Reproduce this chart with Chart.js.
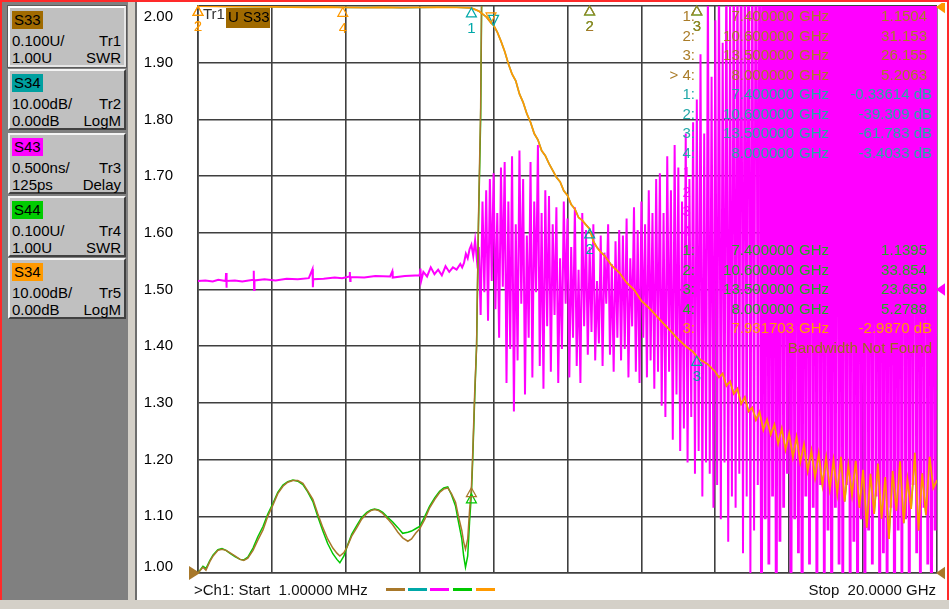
<!DOCTYPE html>
<html lang="en">
<head>
<meta charset="UTF-8">
<title>S33 / S34 / S43 / S44 - Ch1</title>
<script src="https://cdn.jsdelivr.net/npm/chart.js"></script>
<style>
    body { margin: 0; width: 949px; height: 609px; background: #d4d0c8; overflow: hidden;
           font-family: "Liberation Sans", Arial, sans-serif; font-size: 15px; }
    #redframe { position: absolute; left: 0; top: 0; width: 945px; height: 598px;
                border: 2px solid #ff2a2a; border-bottom: none; }
    #panel { position: absolute; left: 2px; top: 2px; width: 126px; height: 598px; background: #808080; }
    .btn { position: absolute; left: 6px; width: 114px; height: 57px; background: #c0c0c0;
           border: 2px solid; border-color: #f4f4f4 #404040 #404040 #f4f4f4; }
    .btn.active { border-color: #ffffff #e6e6e6 #e6e6e6 #ffffff; box-shadow: 0 0 0 1px #5a5a5a; }
    .tag { position: absolute; left: 2px; top: 3px; height: 18px; line-height: 18px; padding: 0 2px; color: #000; }
    .row { position: absolute; left: 2px; right: 3px; height: 17px; line-height: 17px; color: #000; }
    .row span:last-child { position: absolute; right: 0; }
    .r1 { top: 24px; }
    .r2 { top: 41px; }
    #sep { position: absolute; left: 128px; top: 2px; width: 7px; height: 598px; background: #d4d0c8;
           border-right: 2px solid #6e6e6e; }
    #plot { position: absolute; left: 137px; top: 2px; width: 810px; height: 598px; background: #fff; }
    #vna { position: absolute; left: 0; top: 1px; }
    .status { position: absolute; top: 581px; line-height: 18px; white-space: pre; color: #111; }
    .dash { position: absolute; top: 588px; width: 19px; height: 3px; }
</style>
</head>
<body>

<div id="redframe"></div>

<!-- Trace buttons (left side) -->
<div id="panel">
    <div class="btn active" style="top:4px">
        <span class="tag" style="background:#a06a00">S33</span>
        <div class="row r1"><span>0.100U/</span><span>Tr1</span></div>
        <div class="row r2"><span>1.00U</span><span>SWR</span></div>
    </div>
    <div class="btn" style="top:67px">
        <span class="tag" style="background:#00a0a0">S34</span>
        <div class="row r1"><span>10.00dB/</span><span>Tr2</span></div>
        <div class="row r2"><span>0.00dB</span><span>LogM</span></div>
    </div>
    <div class="btn" style="top:131px">
        <span class="tag" style="background:#ff00ff">S43</span>
        <div class="row r1"><span>0.500ns/</span><span>Tr3</span></div>
        <div class="row r2"><span>125ps</span><span>Delay</span></div>
    </div>
    <div class="btn" style="top:194px">
        <span class="tag" style="background:#00cc00">S44</span>
        <div class="row r1"><span>0.100U/</span><span>Tr4</span></div>
        <div class="row r2"><span>1.00U</span><span>SWR</span></div>
    </div>
    <div class="btn" style="top:256px">
        <span class="tag" style="background:#ff9900">S34</span>
        <div class="row r1"><span>10.00dB/</span><span>Tr5</span></div>
        <div class="row r2"><span>0.00dB</span><span>LogM</span></div>
    </div>
</div>
<div id="sep"></div>

<div id="plot">
    <canvas id="vna" width="808" height="597"></canvas>
</div>

<!-- Channel status line -->
<div class="status" style="left:194px">&gt;Ch1: Start  1.00000 MHz</div>
<div class="dash" style="left:386px; background:#a8782a"></div>
<div class="dash" style="left:408px; background:#00a8a8"></div>
<div class="dash" style="left:430px; background:#ff00ff"></div>
<div class="dash" style="left:453px; background:#00c800"></div>
<div class="dash" style="left:476px; background:#ff9900"></div>
<div class="status" style="right:13px">Stop  20.0000 GHz</div>

<script>
    // ---- data (frequency in GHz) ----

    // vertical grid: start 1 MHz, stop 20 GHz, 10 divisions
    const xGrid = [0.001, 2, 4, 6, 8, 10, 12, 14, 16, 18, 20];

    // Tr1 S33 / Tr4 S44, SWR
    const swrFreq = [
        0.001, 0.135, 0.216, 0.32, 0.41, 0.54, 0.65, 0.76, 0.86, 1.00,
        1.14, 1.24, 1.35, 1.49, 1.62, 1.76, 1.89, 2.03, 2.16, 2.30,
        2.43, 2.57, 2.70, 2.84, 2.97, 3.11, 3.24, 3.38, 3.51, 3.65,
        3.76, 3.84, 3.95, 4.03, 4.16, 4.30, 4.43, 4.57, 4.68, 4.78,
        4.89, 5.00, 5.14, 5.27, 5.41, 5.54, 5.68, 5.78, 5.89, 6.00,
        6.14, 6.27, 6.41, 6.54, 6.65, 6.76, 6.86, 6.97, 7.05, 7.14,
        7.19, 7.24, 7.30, 7.35, 7.40, 7.43, 7.49, 7.54, 7.59, 7.65,
        7.70, 7.78, 8.00, 9.00, 10.60, 12.00, 13.50, 15.00, 17.00, 20.00
    ];
    const s33Swr = [
        1.000, 1.010, 1.005, 1.020, 1.030, 1.040, 1.042, 1.040, 1.036, 1.030,
        1.024, 1.022, 1.026, 1.040, 1.058, 1.076, 1.100, 1.120, 1.140, 1.153,
        1.160, 1.163, 1.163, 1.158, 1.145, 1.130, 1.105, 1.080, 1.060, 1.044,
        1.035, 1.030, 1.036, 1.045, 1.065, 1.080, 1.095, 1.105, 1.110, 1.112,
        1.110, 1.105, 1.095, 1.085, 1.072, 1.062, 1.056, 1.060, 1.070, 1.078,
        1.095, 1.115, 1.130, 1.142, 1.148, 1.150, 1.140, 1.125, 1.100, 1.075,
        1.055, 1.042, 1.060, 1.110, 1.1504, 1.200, 1.320, 1.400, 1.620, 1.820,
        2.200, 3.500, 5.2063, 14.0, 31.153, 28.0, 26.155, 22.0, 20.0, 18.0
    ];
    const s44Swr = [
        1.000, 1.012, 1.008, 1.022, 1.032, 1.041, 1.043, 1.040, 1.035, 1.029,
        1.024, 1.023, 1.028, 1.044, 1.064, 1.082, 1.104, 1.123, 1.142, 1.155,
        1.161, 1.164, 1.162, 1.156, 1.143, 1.126, 1.100, 1.074, 1.052, 1.034,
        1.024, 1.018, 1.030, 1.046, 1.068, 1.084, 1.098, 1.107, 1.111, 1.113,
        1.111, 1.107, 1.098, 1.090, 1.080, 1.070, 1.072, 1.074, 1.078, 1.082,
        1.100, 1.118, 1.133, 1.144, 1.150, 1.152, 1.138, 1.118, 1.090, 1.060,
        1.030, 1.010, 1.030, 1.090, 1.1395, 1.190, 1.310, 1.400, 1.610, 1.800,
        2.180, 3.450, 5.2788, 15.0, 33.854, 27.0, 23.659, 21.0, 19.0, 17.0
    ];

    // Tr2 / Tr5 S34, LogM (dB)
    const s34Freq = [
        0.001, 0.5, 1.0, 1.5, 2.0, 2.5, 3.0, 3.5, 4.0, 4.5, 5.0, 5.5, 6.0, 6.5, 7.0,
        7.4, 7.6, 7.8, 7.931703, 8.0,
        8.1, 8.2, 8.3, 8.4, 8.5, 8.6, 8.7, 8.8, 8.9, 9.0,
        9.1, 9.2, 9.3, 9.4, 9.5, 9.6, 9.7, 9.8, 9.9, 10.0,
        10.1, 10.2, 10.3, 10.4, 10.5, 10.6, 10.7, 10.8, 10.9, 11.0,
        11.2, 11.4, 11.6, 11.8, 12.0, 12.2, 12.4, 12.6, 12.8, 13.0,
        13.2, 13.4, 13.5, 13.6, 13.8, 14.0
    ];
    const s34Db = [
        -0.03, -0.06, -0.1, -0.12, -0.15, -0.2, -0.22, -0.18, -0.25, -0.28, -0.22, -0.3, -0.26, -0.2, -0.24,
        -0.336, -0.9, -1.9, -2.987, -3.403,
        -4.6, -6.2, -8.0, -10.2, -12.0, -13.2, -15.5, -17.0, -19.0, -20.5,
        -22.5, -23.6, -25.5, -26.4, -27.8, -29.0, -30.2, -31.0, -32.6, -33.4,
        -35.0, -35.8, -37.3, -37.8, -38.6, -39.309, -41.5, -42.6, -43.4, -44.0,
        -45.8, -47.0, -48.8, -50.0, -52.0, -53.2, -54.6, -56.0, -57.4, -58.8,
        -60.0, -61.0, -61.783, -62.4, -63.2, -64.5
    ];
    // noisy tail, sweep points every 0.1 GHz from 14.1 GHz
    const s34TailStart = 14.1, s34TailStep = 0.1;
    const s34Tail = [
        -65.5, -64.8, -67.0, -66.2, -68.4, -67.5, -70.2, -69.0, -71.5, -70.8,
        -73.0, -71.6, -74.8, -72.9, -75.6, -73.8, -77.2, -74.5, -78.3, -75.4,
        -79.6, -76.0, -80.5, -77.3, -82.0, -78.4, -83.2, -78.9, -84.5, -79.6,
        -85.2, -80.1, -86.0, -79.5, -87.4, -81.0, -86.3, -80.2, -88.5, -81.8,
        -92.0, -82.5, -89.6, -80.7, -90.4, -83.1, -94.0, -82.0, -89.0, -80.3,
        -91.2, -83.5, -88.7, -78.8, -92.5, -82.4, -89.8, -79.5, -85.0, -83.6
    ];

    // Tr3 S43, group delay (ps)
    const s43Freq = [
        0.001, 0.2, 0.4, 0.55, 0.75, 0.76, 0.77, 0.78, 1.0, 1.2,
        1.5, 1.51, 1.52, 1.53, 1.8, 2.1, 2.4, 2.7, 3.0, 3.1,
        3.11, 3.12, 3.4, 3.7, 3.9, 4.1, 4.11, 4.12, 4.13, 4.5,
        4.8, 5.2, 5.26, 5.27, 5.6, 6.0, 6.02, 6.04, 6.1, 6.2,
        6.3, 6.4, 6.5, 6.6, 6.7, 6.8, 6.9, 7.0, 7.1, 7.15,
        7.2, 7.25, 7.3, 7.35, 7.4, 7.45, 7.5, 7.55
    ];
    const s43Delay = [
        200, 205, 195, 210, 200, 270, 140, 200, 205, 195,
        210, 290, 120, 205, 215, 205, 220, 215, 225, 305,
        145, 215, 220, 230, 225, 240, 280, 200, 235, 230,
        245, 240, 285, 230, 245, 250, 310, 200, 280, 240,
        320, 260, 300, 250, 330, 280, 320, 300, 350, 320,
        360, 440, 400, 480, 520, 420, 560, 380
    ];
    // noisy part, sweep points every 0.05 GHz from 7.60 GHz
    const s43NoiseStart = 7.60, s43NoiseStep = 0.05;
    const s43Noise = [
        500, -100, 900, 100, 1000, -150, 1100, 200,
        1150, -50, 800, -300, 1200, 150, 1250, -700, 900, -400,
        1300, -950, 700, -500, 1350, 0, 1100, -800, 600, -300,
        1250, -650, 900, 100, 1400, -550, 800, -750, 1000, -200,
        950, -600, 700, -100, 850, -700, 400, -400, 900, 0,
        750, -650, 500, -300, 850, -550, 300, -700, 800, -200,
        650, -450, 500, -250, 700, -500, 200, -350, 600, -550,
        450, 0, 700, -450, 350, -600, 550, -300, 650, -500,
        600, -400, 750, -650, 400, -200, 850, -600, 650, -700,
        900, -300, 700, -650, 1000, -500, 800, -750, 1100, -600,
        1150, -900, 800, -1000, 1300, -600, 1000, -1200, 1400, -800,
        1200, -1300, 900, -1100, 1500, -1400, 1100, -1000, 1600, -1500,
        1800, -1300, 2200, -1700, 1500, -1400, 2800, -1500, 2000, -1800,
        2500, -1600, 3000, -1900, 2300, -1400, 3200, -2100, 2700, -1700,
        3500, -1800, 3200, -1500, 4000, -2200, 3600, -1700, 4500, -2400,
        3800, -2000, 5000, -1600, 4200, -2600, 3900, -1900, 4800, -2300,
        4400, -1700, 5200, -2800, 4100, -2100, 5500, -1800, 4600, -1500,
        5000, -2500, 4300, -1900, 5800, -2200, 4700, -3000, 5100, -1700,
        4500, -2300, 6000, -1800, 4900, -2700, 5300, -1600, 4400, -2400,
        5600, -2000, 4800, -3100, 5200, -1800, 6100, -2300, 4600, -2600,
        5400, -1600, 5000, -2500, 5900, -2100, 4700, -2900, 5500, -1900,
        4900, -2700, 6200, -2000, 5100, -2300, 5700, -1700, 4800, -2900,
        6000, -2200, 5300, -2600, 4700, -1800, 5800, -3200, 5200, -2000,
        4600, -2400, 6300, -1900, 5400, -2800, 5000, -1600, 5900, -2200,
        5200, -2600, 4800, -1800, 6100, -2300, 5500, -3000, 4900, -2000,
        5600
    ];

    // markers 1..4 (GHz) and the values in the marker table
    const markerFreq = [7.4, 10.6, 13.5, 8.0];
    const s33Marker = [1.1504, 31.153, 26.155, 5.2063];
    const s34Marker = [-0.33614, -39.309, -61.783, -3.4033];
    const s44Marker = [1.1395, 33.854, 23.659, 5.2788];
    // Tr5 bandwidth search markers
    const bwFreq = [0.001, 0.001, 7.931703, 3.92];
    const bwDb = [-0.05, -0.05, -2.987, -0.25];

    // ---- helpers ----
    const pairs = (xs, ys) => ys.map((y, i) => ({ x: xs[i], y: y }));
    const sweep = (start, step, ys) => ys.map((y, i) => ({ x: +(start + i * step).toFixed(3), y: y }));

    const s34Data = pairs(s34Freq, s34Db).concat(sweep(s34TailStart, s34TailStep, s34Tail));
    const s43Data = pairs(s43Freq, s43Delay).concat(sweep(s43NoiseStart, s43NoiseStep, s43Noise));

    const FONT = '15px "Liberation Sans", Arial, sans-serif';
    const BROWN = '#a8782a', TEAL = '#00a8a8', MAGENTA = '#ff00ff', GREEN = '#00c800', ORANGE = '#ff9900';

    // triangle marker, apex on the trace point
    function drawMarker(ctx, x, y, num, color, down) {
        ctx.strokeStyle = color;
        ctx.lineWidth = 1.2;
        ctx.beginPath();
        if (down) {
            ctx.moveTo(x - 5, y - 10); ctx.lineTo(x + 5, y - 10); ctx.lineTo(x, y);
        } else {
            ctx.moveTo(x, y); ctx.lineTo(x + 5, y + 9); ctx.lineTo(x - 5, y + 9);
        }
        ctx.closePath();
        ctx.stroke();
        if (num) {
            ctx.fillStyle = color;
            ctx.textAlign = 'center';
            ctx.fillText(num, x, y + 21);
        }
    }

    function refArrow(ctx, x, y, color, pointRight) {
        ctx.fillStyle = color;
        ctx.beginPath();
        if (pointRight) {
            ctx.moveTo(x - 9, y - 7); ctx.lineTo(x + 2, y); ctx.lineTo(x - 9, y + 7);
        } else {
            ctx.moveTo(x + 9, y - 7); ctx.lineTo(x - 1, y); ctx.lineTo(x + 9, y + 7);
        }
        ctx.closePath();
        ctx.fill();
    }

    // everything the analyzer writes on top of the traces
    const overlay = {
        id: 'overlay',
        afterDatasetsDraw(chart) {
            const { ctx, chartArea: a, scales } = chart;
            const clampY = y => Math.min(Math.max(y, a.top), a.bottom);
            const fx = f => scales.x.getPixelForValue(f);
            ctx.save();
            ctx.font = FONT;
            ctx.textBaseline = 'middle';

            // scale labels of the active trace (Tr1), edge labels pulled inside
            ctx.fillStyle = '#000';
            ctx.textAlign = 'right';
            scales.y.ticks.forEach(t => {
                const y = Math.min(Math.max(scales.y.getPixelForValue(t.value), a.top + 11), a.bottom - 6);
                ctx.fillText(t.value.toFixed(2), 36, y);
            });

            // reference position arrows
            refArrow(ctx, a.left, scales.y.getPixelForValue(1.0), BROWN, true);
            refArrow(ctx, a.right, scales.y.getPixelForValue(1.0), BROWN, false);
            refArrow(ctx, a.right, scales.yDelay.getPixelForValue(125), MAGENTA, false);
            refArrow(ctx, a.right, scales.yDb.getPixelForValue(0) + 1, ORANGE, false);

            // markers
            for (let i = 0; i < 3; i++) {
                drawMarker(ctx, fx(markerFreq[i]), clampY(scales.y.getPixelForValue(s44Marker[i])), i ? String(i + 1) : '', GREEN, false);
            }
            for (let i = 0; i < 3; i++) {
                drawMarker(ctx, fx(markerFreq[i]), clampY(scales.y.getPixelForValue(s33Marker[i])), i ? String(i + 1) : '', BROWN, false);
            }
            for (let i = 0; i < 3; i++) {
                drawMarker(ctx, fx(markerFreq[i]), clampY(scales.yDb.getPixelForValue(s34Marker[i])), String(i + 1), TEAL, false);
            }
            drawMarker(ctx, fx(markerFreq[3]), clampY(scales.yDb.getPixelForValue(s34Marker[3])), '', TEAL, true);
            [0, 1, 3].forEach(i => {
                drawMarker(ctx, fx(bwFreq[i]), clampY(scales.yDb.getPixelForValue(bwDb[i])), String(i + 1), ORANGE, false);
            });
            drawMarker(ctx, fx(bwFreq[2]), clampY(scales.yDb.getPixelForValue(bwDb[2])), '', ORANGE, true);

            // active trace tag
            ctx.textAlign = 'left';
            ctx.fillStyle = '#333';
            ctx.fillText('Tr1', 66, 12);
            ctx.fillStyle = '#a06a00';
            ctx.fillRect(89, 5, 44, 20);
            ctx.fillStyle = '#000';
            ctx.fillText('U S33', 91, 15);

            // marker table
            const rowY = r => 14 + r * 19.5;
            function row(r, color, label, freq, value, unit) {
                ctx.fillStyle = color;
                ctx.textAlign = 'right';
                ctx.fillText(label, 558, rowY(r));
                if (freq === undefined) return;
                ctx.fillText(freq.toFixed(6), 657, rowY(r));
                ctx.textAlign = 'left';
                ctx.fillText('GHz', 662, rowY(r));
                ctx.textAlign = 'right';
                ctx.fillText(value.toPrecision(5) + unit, unit ? 795 : 790, rowY(r));
            }
            const lbl = ['1:', '2:', '3:', '> 4:'];
            for (let i = 0; i < 4; i++) row(i, '#aa7c28', lbl[i], markerFreq[i], s33Marker[i], '');
            for (let i = 0; i < 4; i++) row(4 + i, '#22a8a8', (i + 1) + ':', markerFreq[i], s34Marker[i], ' dB');
            for (let i = 0; i < 4; i++) row(8 + i, MAGENTA, (i + 1) + ':');
            for (let i = 0; i < 4; i++) row(12 + i, '#22aa22', (i + 1) + ':', markerFreq[i], s44Marker[i], '');
            row(16, ORANGE, '3:', bwFreq[2], bwDb[2], ' dB');
            ctx.fillStyle = '#9c6b1e';
            ctx.textAlign = 'right';
            ctx.fillText('Bandwidth Not Found', 795, rowY(17));
            ctx.restore();
        }
    };

    const line = (label, data, axis, color, order, width) => ({
        label: label, data: data, yAxisID: axis, borderColor: color, borderWidth: width,
        pointRadius: 0, tension: 0, fill: false, order: order
    });

    // delay trace: heavier pen where the trace runs off both edges of the screen
    const s43Line = line('Tr3 S43', s43Data, 'yDelay', MAGENTA, 3, 2);
    s43Line.segment = { borderWidth: c => (c.p0.parsed.x >= 15.2 ? 2.8 : 2) };

    new Chart(document.getElementById('vna'), {
        type: 'line',
        data: {
            datasets: [
                line('Tr5 S34', s34Data, 'yDb', ORANGE, 0, 1.8),
                line('Tr1 S33', pairs(swrFreq, s33Swr), 'y', BROWN, 1, 1.5),
                line('Tr4 S44', pairs(swrFreq, s44Swr), 'y', GREEN, 2, 1.5),
                s43Line,
                line('Tr2 S34', s34Data, 'yDb', TEAL, 4, 1.5)
            ]
        },
        options: {
            responsive: false,
            animation: false,
            events: [],
            layout: { padding: { left: 61, top: 3, right: 8, bottom: 27 } },
            plugins: { legend: { display: false }, tooltip: { enabled: false } },
            scales: {
                x: {
                    type: 'linear', min: 0.001, max: 20,
                    afterBuildTicks: scale => { scale.ticks = xGrid.map(v => ({ value: v })); },
                    ticks: { display: false },
                    grid: { color: '#3f3f3f', lineWidth: 1.6, drawTicks: false },
                    border: { color: '#3f3f3f', width: 1.6 }
                },
                // Tr1 SWR: 0.100 U/div, ref 1.00 U at bottom
                y: {
                    min: 1, max: 2,
                    ticks: { display: false, stepSize: 0.1 },
                    grid: { color: '#3f3f3f', lineWidth: 1.6, drawTicks: false },
                    border: { color: '#3f3f3f', width: 1.6 }
                },
                // LogM: 10 dB/div, ref 0 dB at top
                yDb: { display: false, min: -100, max: 0 },
                // Delay: 0.5 ns/div, ref 125 ps at centre
                yDelay: { display: false, min: -2375, max: 2625 }
            }
        },
        plugins: [overlay]
    });
</script>
</body>
</html>
